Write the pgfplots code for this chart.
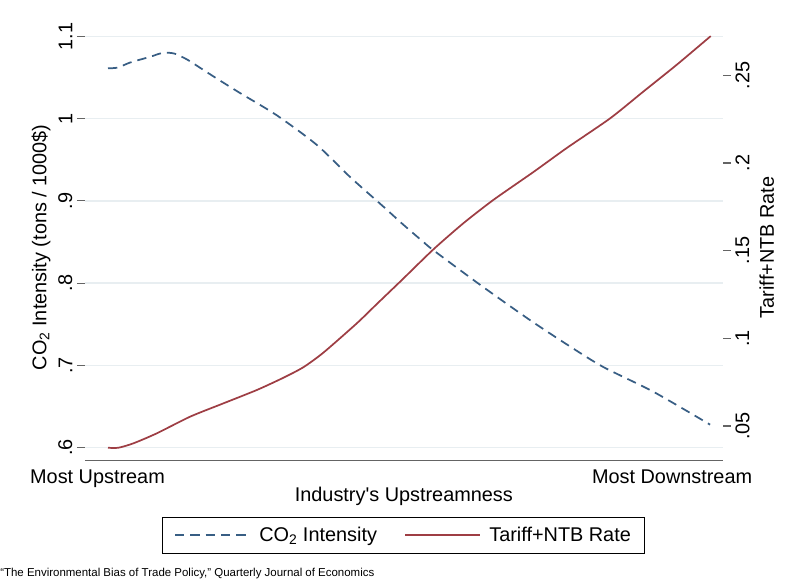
\documentclass[border=0pt]{standalone}
\usepackage{pgfplots}
\pgfplotsset{compat=1.18}
\usepackage{fontspec}
\setmainfont{Liberation Sans}

\definecolor{co2}{RGB}{56,94,132}
\definecolor{tariff}{RGB}{158,62,68}
\definecolor{gridc}{RGB}{232,238,241}
\definecolor{axisc}{RGB}{100,100,100}

\pgfplotsset{
  base/.style={
    width=478.3pt, height=320pt, scale only axis,
    at={(0,0)}, anchor=south west,
    xmin=-3.82, xmax=102.1,
    clip=false,
    tick align=outside,
    major tick length=6pt,
    tick style={draw=axisc, line width=0.9pt},
    y axis line style={draw=none},
  },
  co2line/.style={co2, line width=1.3pt, dash pattern=on 7pt off 4.5pt},
  tariffline/.style={tariff, line width=1.3pt},
}

\begin{document}
\begin{tikzpicture}[font=\fontsize{14.9}{18}\selectfont]
\begin{axis}[base,
  axis x line*=bottom, axis y line*=left,
  x axis line style={draw=axisc, line width=1pt, -},
  ymin=0.5842, ymax=1.1027,
  ytick={0.6,0.7,0.8,0.9,1.0,1.1},
  yticklabels={.6,.7,.8,.9,1,1.1},
  yticklabel style={rotate=90, anchor=south},
  ymajorgrids, grid style={draw=gridc, line width=1.1pt},
  xtick={-1.74,93.69}, xticklabels={Most Upstream, Most Downstream},
  xtick style={draw=none},
  xticklabel style={yshift=2.5pt},
  ylabel={CO\textsubscript{2} Intensity (tons / 1000\$)},
  ylabel style={at={(axis description cs:-0.069,0.5)}, anchor=center},
  xlabel={Industry\textquotesingle s Upstreamness},
  xlabel style={at={(axis description cs:0.5,-0.084)}, anchor=center},
]
\addplot[co2line, smooth, tension=0.45] coordinates {
  (0,1.061) (1.66,1.062) (3.65,1.068) (6.98,1.075) (8.64,1.079)
  (9.75,1.080) (10.63,1.0795) (11.41,1.078) (13.07,1.072) (14.17,1.067)
  (17.77,1.050) (21.93,1.031) (28.02,1.004) (34.67,0.968)
  (40.20,0.929) (45.73,0.893) (49.05,0.871) (52.38,0.850) (54.04,0.840)
  (61.79,0.798) (70.10,0.755) (76.74,0.723) (82.28,0.698) (90.58,0.668)
  (100,0.628)
};
\end{axis}

\begin{axis}[base,
  axis x line=none, axis y line*=right,
  ymin=0.03022, ymax=0.27349,
  ytick={0.05,0.1,0.15,0.2,0.25},
  yticklabels={.05,.1,.15,.2,.25},
  yticklabel style={rotate=90, anchor=north},
  ylabel={Tariff+NTB Rate},
  ylabel style={at={(axis description cs:1.069,0.5)}, anchor=center},
  legend columns=2,
  legend style={at={(axis description cs:0.5,-0.131)}, anchor=north,
    draw=black, line width=0.75pt, inner xsep=8.5pt, inner ysep=5.5pt,
    /tikz/every odd column/.append style={column sep=4.5pt},
    /tikz/every even column/.append style={column sep=18.5pt}},
  legend image code/.code={\draw[#1] (0pt,0pt) -- (56pt,0pt);},
]
\addlegendimage{co2line}
\addlegendentry{CO\textsubscript{2} Intensity}
\addplot[tariffline, smooth, tension=0.4] coordinates {
  (0,0.0376) (1.71,0.0376) (4.2,0.0401) (8.09,0.0458) (13.62,0.0553)
  (19.15,0.0629) (24.70,0.0705) (29.12,0.0775) (32.44,0.0835) (35.76,0.0918)
  (41.31,0.1085) (44.63,0.1195) (48.79,0.1332) (54.04,0.1507) (59.02,0.1656)
  (64.0,0.1789) (70.65,0.1948) (76.19,0.2085) (83.39,0.2254) (88.92,0.2407)
  (94.47,0.256) (100.1,0.2723)
};
\addlegendentry{Tariff+NTB Rate\hspace{8pt}}
\end{axis}

\node[anchor=north west, inner sep=0pt, font=\fontsize{8.6}{10}\selectfont]
  at (-63.75pt,-80.2pt) {“The Environmental Bias of Trade Policy,” Quarterly Journal of Economics};
\path[use as bounding box] (-63.75pt,-88.725pt) rectangle (529.5pt,345.525pt);
\end{tikzpicture}
\end{document}
